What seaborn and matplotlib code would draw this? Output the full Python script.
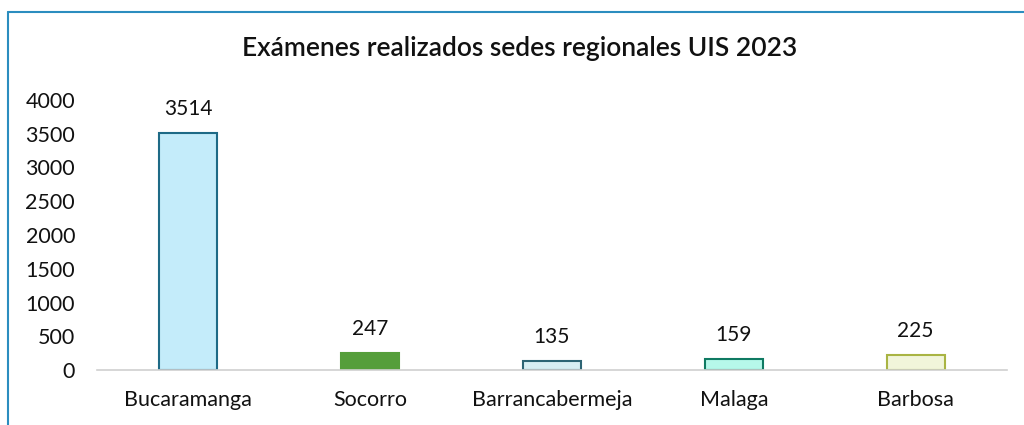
import matplotlib
matplotlib.use("Agg")
import matplotlib.pyplot as plt
import seaborn as sns
import pandas as pd
from matplotlib.lines import Line2D

sedes = ["Bucaramanga", "Socorro", "Barrancabermeja", "Malaga", "Barbosa"]
examenes = [3514, 247, 135, 159, 225]
rellenos = ["#C4ECFA", "#559E3A", "#D8EEF3", "#B6F8EA", "#F1F5DA"]
bordes = ["#1E6A86", "#559E3A", "#2D6474", "#0F7A62", "#A9B443"]

df = pd.DataFrame({"sede": sedes, "examenes": examenes})

sns.set_style("white")
plt.rcParams["font.family"] = ["Lato", "DejaVu Sans"]

fig = plt.figure(figsize=(10.24, 4.25), dpi=100)
ax = fig.add_axes([0.095, 0.129, 0.888, 0.636])

sns.barplot(data=df, x="sede", y="examenes", hue="sede", palette=rellenos,
            saturation=1, width=0.32, legend=False, ax=ax, linewidth=1.5)
for patch, ec in zip(ax.patches, bordes):
    patch.set_edgecolor(ec)

for i, v in enumerate(examenes):
    ax.text(i, v + 210, str(v), ha="center", va="bottom", fontsize=15, color="#111111")

ax.set_ylim(0, 4000)
ax.set_xlim(-0.5, 4.5)
ax.set_yticks(range(0, 4001, 500))
ax.set_xlabel("")
ax.set_ylabel("")
ax.tick_params(axis="both", labelsize=15.5, length=0, colors="#111111")
ax.tick_params(axis="x", pad=14)
ax.tick_params(axis="y", pad=16)
for s in ["top", "right", "left"]:
    ax.spines[s].set_visible(False)
ax.spines["bottom"].set_color("#D0D0D0")
ax.spines["bottom"].set_linewidth(1.2)

fig.text(0.507, 0.885, "Exámenes realizados sedes regionales UIS 2023",
         ha="center", va="center", fontsize=19, fontweight="semibold", color="#111111")

# marco del grafico
fig.add_artist(Line2D([8 / 1024, 1], [1 - 12 / 425, 1 - 12 / 425],
                      transform=fig.transFigure, color="#2B8DBF", lw=1.5))
fig.add_artist(Line2D([8 / 1024, 8 / 1024], [0, 1 - 12 / 425],
                      transform=fig.transFigure, color="#2B8DBF", lw=1.5))

fig.savefig("out.png", dpi=100)
